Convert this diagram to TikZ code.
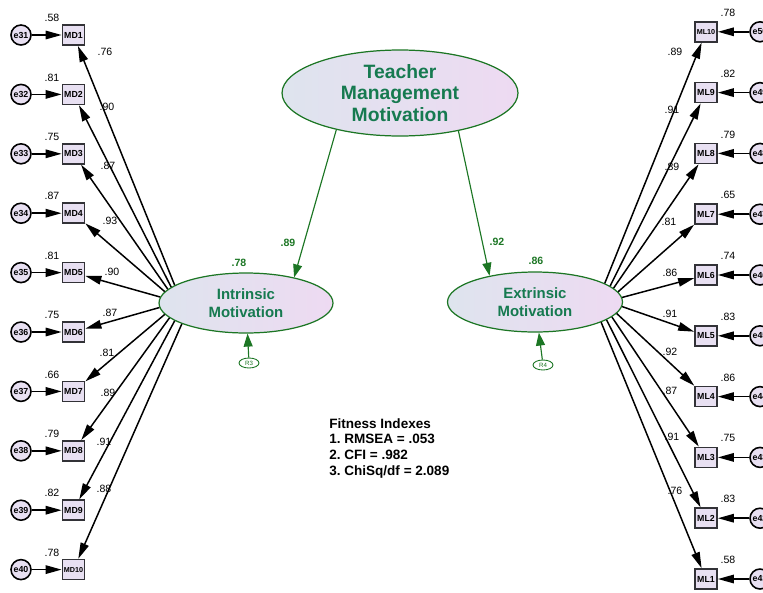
\documentclass[tikz,border=0pt]{standalone}
\usepackage{fontspec}
\setmainfont{Liberation Sans}
\setsansfont{Liberation Sans}
\usetikzlibrary{arrows.meta,positioning,shapes.geometric}
\definecolor{semgreen}{RGB}{22,122,80}
\definecolor{pathgreen}{RGB}{28,118,36}
\definecolor{lavender}{RGB}{232,224,242}
\definecolor{lavleft}{RGB}{222,228,238}
\definecolor{lavright}{RGB}{238,218,242}
\definecolor{boxgray}{RGB}{50,50,55}
\frenchspacing

\begin{document}
\begin{tikzpicture}[
  x=0.02cm, y=-0.02cm,
  font=\sffamily,
  >={Triangle[length=3.2mm,width=1.7mm]},
  obs/.style={draw=boxgray, line width=1.0pt, fill=lavender, minimum width=0.44cm, minimum height=0.40cm, inner sep=0pt, font=\bfseries\fontsize{#1}{#1}\selectfont},
  obs/.default=5,
  err/.style={circle, draw=black, line width=0.9pt, fill=lavender, minimum size=0.40cm, inner sep=0pt, font=\bfseries\fontsize{5}{5}\selectfont},
  latent/.style={ellipse, draw=pathgreen, line width=0.7pt, left color=lavleft, right color=lavright, inner sep=0pt, align=center, text=semgreen},
  resid/.style={ellipse, draw=pathgreen, line width=0.5pt, fill=white, minimum width=0.40cm, minimum height=0.20cm, inner sep=0pt, text=pathgreen, font=\fontsize{3.5}{3.5}\selectfont},
  coef/.style={font=\fontsize{6}{6}\selectfont, inner sep=0.5pt},
  gcoef/.style={font=\bfseries\fontsize{6}{6}\selectfont, text=pathgreen, inner sep=0.5pt},
  load/.style={->, draw=black, line width=0.85pt},
  struct/.style={-{Triangle[length=2.6mm,width=1.8mm]}, draw=pathgreen, line width=0.65pt},
  fitnote/.style={align=left, inner sep=0pt, font=\bfseries\fontsize{7.7}{9}\selectfont}
]

% Canvas
\useasboundingbox (0,0) rectangle (763,592);

% Latent variables
\node[latent, minimum width=4.72cm, minimum height=1.72cm, inner ysep=-4pt, font=\bfseries\fontsize{11}{12.2}\selectfont] (teach) at (400,93) {Teacher\\Management\\Motivation};
\node[latent, minimum width=3.48cm, minimum height=1.20cm, font=\bfseries\fontsize{8.5}{10.5}\selectfont] (intr) at (246,303) {Intrinsic\\Motivation};
\node[latent, minimum width=3.50cm, minimum height=1.20cm, font=\bfseries\fontsize{8.5}{10.5}\selectfont] (extr) at (535,302) {Extrinsic\\Motivation};

% Residuals
\node[resid] (r3) at (249,363) {R3};
\node[resid] (r4) at (543,365) {R4};
\draw[struct] (r3) -- (intr);
\draw[struct] (r4) -- (extr);

% Structural paths
\draw[struct] (teach.210) -- (intr.28);
\draw[struct] (teach.327) -- (extr.150);
\node[gcoef] (b1) at (288,243) {.89};
\node[gcoef] (b2) at (497,242) {.92};
\node[gcoef] (sq1) at (239,263) {.78};
\node[gcoef] (sq2) at (536,261) {.86};

% Intrinsic indicators MD1--MD10
\foreach \i/\yy/\var/\lam/\lx/\ly/\ang [evaluate=\i as \e using int(30+\i)] in {
  1/35.0/.58/.76/105/52/166, 2/94.4/.81/.90/107/107/168,
  3/153.8/.75/.87/108/166/170, 4/213.2/.87/.93/110/221/172,
  5/272.6/.81/.90/112/272/176, 6/332.0/.75/.87/110/313/183,
  7/391.4/.66/.81/107/353/188, 8/450.8/.79/.89/108/393/191,
  9/510.2/.82/.91/104/442/194, 10/569.6/.78/.88/104/489/198}{
  \ifnum\i=10 \def\fs{4.1}\else\def\fs{5}\fi
  \node[obs=\fs] (md\i) at (73.5,\yy) {MD\i};
  \node[err] (e\e) at (21,\yy) {e\e};
  \node[coef] (v\e) at (52,{\yy-17}) {\var};
  \draw[load] (e\e) -- (md\i);
  \draw[load] (intr.\ang) -- (md\i);
  \node[coef] (l\e) at (\lx,\ly) {\lam};
}

% Extrinsic indicators ML1--ML10
\foreach \i/\yy/\var/\lam/\lx/\ly/\ang [evaluate=\i as \e using int(40+\i)] in {
  10/31.8/.78/.89/675/52/15, 9/92.6/.82/.91/672/110/12,
  8/153.4/.79/.89/672/167/10, 7/214.2/.65/.81/669/222/7,
  6/275.0/.74/.86/670/273/3, 5/335.8/.83/.91/670/314/-3,
  4/396.6/.86/.92/670/352/-8, 3/457.4/.75/.87/670/391/-11,
  2/518.2/.83/.91/672/437/-14, 1/579.0/.58/.76/675/491/-17}{
  \ifnum\i=10 \def\fs{4.1}\else\def\fs{5}\fi
  \node[obs=\fs] (ml\i) at (706,\yy) {ML\i};
  \node[err] (e\e) at (760,\yy) {e\e};
  \node[coef] (v\e) at (728,{\yy-19}) {\var};
  \draw[load] (e\e) -- (ml\i);
  \draw[load] (extr.\ang) -- (ml\i);
  \node[coef] (l\e) at (\lx,\ly) {\lam};
}

% Fit summary
\node[fitnote, anchor=north west] (fit) at (329,418) {Fitness Indexes\\1. RMSEA = .053\\2. CFI = .982\\3. ChiSq/df = 2.089};

\end{tikzpicture}
\end{document}
